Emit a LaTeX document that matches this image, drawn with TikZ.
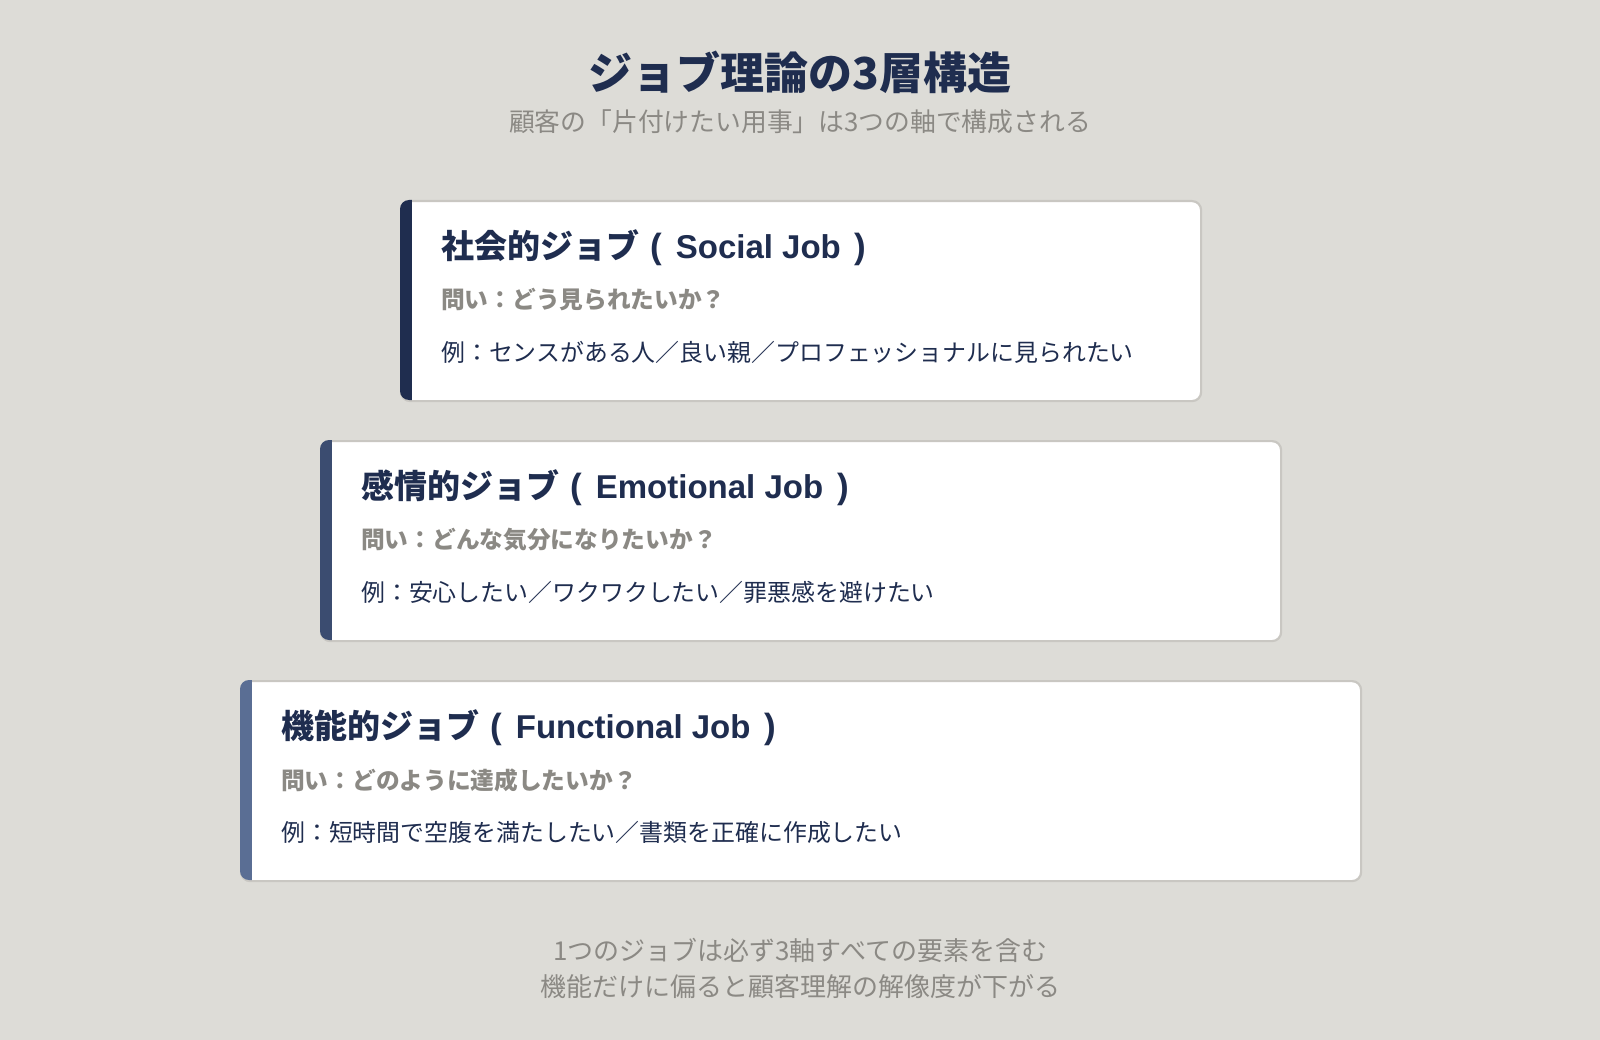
\documentclass[tikz,border=0pt]{standalone}
\usepackage{fontspec}
\setmainfont{Noto Sans CJK JP}
\newfontfamily\latinf{Liberation Sans}
\definecolor{bg}{HTML}{DDDCD7}
\definecolor{navy}{HTML}{1F2D4F}
\definecolor{navyb}{HTML}{3B4C70}
\definecolor{navyc}{HTML}{5A6E94}
\definecolor{graytx}{HTML}{8B8984}
\definecolor{border}{HTML}{C9C7C2}
\tikzset{
  card/.style={draw=border, line width=2.2pt, fill=white, rounded corners=9pt, inner sep=0pt, anchor=north west},
  ttl/.style={anchor=center, text=navy, font=\fontsize{44}{52}\selectfont\bfseries, inner sep=0pt},
  subttl/.style={anchor=center, text=graytx, font=\fontsize{25.8}{30}\selectfont, inner sep=0pt},
  head/.style={anchor=west, text=navy, font=\fontsize{33}{38}\selectfont\bfseries, inner sep=0pt},
  quest/.style={anchor=west, text=graytx, font=\fontsize{23.7}{28}\selectfont\bfseries, inner sep=0pt},
  examp/.style={anchor=west, text=navy, font=\fontsize{23.9}{28}\selectfont, inner sep=0pt},
  foot/.style={anchor=center, text=graytx, font=\fontsize{26}{30}\selectfont, inner sep=0pt},
}
\newcommand{\mycard}[5]{%
  \node[card, minimum width=#3pt, minimum height=200pt] (#1) at (#2,#4) {};
  \begin{scope}
    \clip[rounded corners=9pt] (#2,#4) rectangle ++(#3,200);
    \fill[#5] (#2-1,#4-1) rectangle ++(13,202);
  \end{scope}
}
\newcommand{\lat}[1]{{\latinf\kern11pt{\fontsize{35}{38}\selectfont(}\kern14pt #1\kern14pt{\fontsize{35}{38}\selectfont)}}}
\begin{document}
\begin{tikzpicture}[x=1pt,y=-1pt]
\fill[bg] (0,0) rectangle (1600,1040);
\useasboundingbox (0,0) rectangle (1600,1040);

\node[ttl] (title) at (800,72) {ジョブ理論の3層構造};
\node[subttl] (sub) at (800,122) {顧客の「片付けたい用事」は3つの軸で構成される};

% card 1
\mycard{c1}{400}{800}{200}{navy}
\node[head] (h1) at (441,248) {社会的ジョブ\lat{Social Job}};
\node[quest] (q1) at (441,300) {問い：どう見られたいか？};
\node[examp] (e1) at (441,352) {例：センスがある人／良い親／プロフェッショナルに見られたい};

% card 2
\mycard{c2}{320}{960}{440}{navyb}
\node[head] (h2) at (361,488) {感情的ジョブ\lat{Emotional Job}};
\node[quest] (q2) at (361,540) {問い：どんな気分になりたいか？};
\node[examp] (e2) at (361,592) {例：安心したい／ワクワクしたい／罪悪感を避けたい};

% card 3
\mycard{c3}{240}{1120}{680}{navyc}
\node[head] (h3) at (281,728) {機能的ジョブ\lat{Functional Job}};
\node[quest] (q3) at (281,780) {問い：どのように達成したいか？};
\node[examp] (e3) at (281,832) {例：短時間で空腹を満たしたい／書類を正確に作成したい};

\node[foot] (f1) at (800,950) {1つのジョブは必ず3軸すべての要素を含む};
\node[foot] (f2) at (800,987) {機能だけに偏ると顧客理解の解像度が下がる};
\end{tikzpicture}
\end{document}
